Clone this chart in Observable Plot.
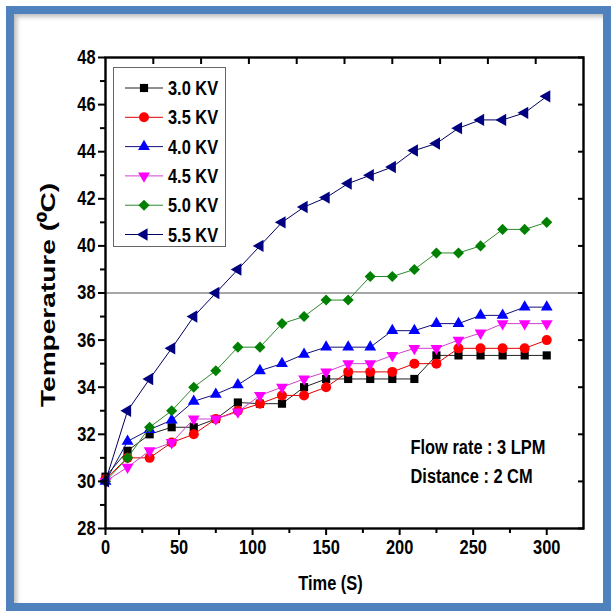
<!DOCTYPE html>
<html><head><meta charset="utf-8">
<script src="https://cdn.jsdelivr.net/npm/d3@7"></script>
<script src="https://cdn.jsdelivr.net/npm/@observablehq/plot@0.6"></script>
<style>
body{margin:0;background:#fff;}
#wrap{position:relative;width:615px;height:616px;overflow:hidden;background:#fff;}
#frame{position:absolute;left:6px;top:6px;width:605px;height:605px;box-sizing:border-box;border:8px solid #4f81bd;pointer-events:none;box-shadow:inset 3px 3px 4px rgba(0,0,0,0.25);}
#legend{position:absolute;left:0;top:0;pointer-events:none;}
</style></head><body><div id="wrap"></div>
<script>
// ---- data ----
const times = [0,15,30,45,60,75,90,105,120,135,150,165,180,195,210,225,240,255,270,285,300];
const kv30 = [30.2,31.3,32.0,32.3,32.3,32.65,33.35,33.3,33.3,34.0,34.35,34.35,34.35,34.35,34.35,35.35,35.35,35.35,35.35,35.35,35.35];
const kv35 = [30.1,31.0,31.0,31.65,32.0,32.65,33.0,33.3,33.65,33.65,34.0,34.65,34.65,34.65,35.0,35.0,35.65,35.65,35.65,35.65,36.0];
const kv40 = [30.0,31.7,32.2,32.6,33.4,33.7,34.1,34.7,35.0,35.4,35.7,35.7,35.7,36.4,36.4,36.7,36.7,37.05,37.05,37.4,37.4];
const kv45 = [30.0,30.6,31.3,31.65,32.65,32.65,32.95,33.65,34.0,34.35,34.65,35.0,35.0,35.35,35.65,35.65,36.0,36.3,36.7,36.7,36.7];
const kv50 = [30.0,31.0,32.3,33.0,34.0,34.7,35.7,35.7,36.7,37.0,37.7,37.7,38.7,38.7,39.0,39.7,39.7,40.0,40.7,40.7,41.0];
const kv55 = [30.0,33.0,34.35,35.65,37.0,38.0,39.0,40.0,41.0,41.65,42.05,42.65,43.0,43.35,44.05,44.35,45.0,45.35,45.35,45.65,46.35];
const seriesNames = ["3.0 KV","3.5 KV","4.0 KV","4.5 KV","5.0 KV","5.5 KV"];
const seriesValues = [kv30,kv35,kv40,kv45,kv50,kv55];
const xTicks = [0,50,100,150,200,250,300];
const xMinorTicks = [25,75,125,175,225,275];
const topTicks = [32.5,65,97.5,130,162.5,195,227.5,260,292.5];
const yTicks = [28,30,32,34,36,38,40,42,44,46,48];
const yMinorTicks = [29,31,33,35,37,39,41,43,45,47];
const refLine = [38];
const note1 = "Flow rate : 3 LPM";
const note2 = "Distance : 2 CM";
const xTitle = "Time (S)";
const yTitle = "Temperature (\u2070C)";

// ---- styles ----
const styles = [
  {fill:"#000000", line:"#222222", symbol:"square",   r:4.6, rotate:0},
  {fill:"#ff0000", line:"#e00000", symbol:"circle",   r:5.0, rotate:0},
  {fill:"#0000ff", line:"#10107a", symbol:"triangle", r:4.4, rotate:0},
  {fill:"#ff00ff", line:"#d040d0", symbol:"triangle", r:4.4, rotate:180},
  {fill:"#008000", line:"#2a8a2a", symbol:"diamond2", r:5.0, rotate:0},
  {fill:"#000080", line:"#000060", symbol:"triangle", r:4.6, rotate:-90}
];
const font = "'Liberation Sans', Arial, Helvetica, sans-serif";
const condense = 0.82;

const rows = seriesNames.map((name, si) => times.map((t, i) => ({t, v: seriesValues[si][i], s: name})));

const seriesMarks = rows.flatMap((data, si) => {
  const st = styles[si];
  return [
    Plot.line(data, {x:"t", y:"v", stroke: st.line, strokeWidth: 1}),
    Plot.dot(data, {x:"t", y:"v", symbol: st.symbol, r: st.r, fill: st.fill, stroke: "none", rotate: st.rotate})
  ];
});

const chart = Plot.plot({
  width: 615, height: 616,
  marginLeft: 105, marginRight: 32, marginTop: 57, marginBottom: 88,
  x: {domain: [0, 325], label: null},
  y: {domain: [28, 48], label: null},
  style: {fontFamily: font, fontWeight: "bold", fontSize: "20px", color: "#000", background: "transparent"},
  marks: [
    Plot.ruleY(refLine, {stroke: "#8a8a8a", strokeWidth: 1.3}),
    ...seriesMarks,
    Plot.frame({stroke: "#000", strokeWidth: 2.4}),
    Plot.axisX({ticks: xTicks, tickSize: 7, tickPadding: 4, strokeWidth: 2, fontSize: 20, fontWeight: "bold", label: null}),
    Plot.axisX({ticks: xMinorTicks, tickSize: 5, text: null, strokeWidth: 2, label: null}),
    Plot.axisX({anchor: "top", ticks: topTicks, tickSize: -6, text: null, strokeWidth: 2, label: null}),
    Plot.axisY({ticks: yTicks, tickSize: 7, tickPadding: 3, strokeWidth: 2, fontSize: 20, fontWeight: "bold", label: null}),
    Plot.axisY({ticks: yMinorTicks, tickSize: 5, text: null, strokeWidth: 2, label: null}),
    Plot.axisY({anchor: "right", ticks: yTicks, tickSize: -6, text: null, strokeWidth: 2, label: null}),
    Plot.text([xTitle], {text: d => d, frameAnchor: "bottom", dx: -14, dy: 55, fontSize: 20, fontWeight: "bold", lineAnchor: "middle", textAnchor: "middle"}),
    Plot.text([yTitle], {text: d => d, frameAnchor: "left", dx: -57, dy: 2, rotate: -90, fontSize: 21, fontWeight: "bold", lineAnchor: "middle", textAnchor: "middle"}),
    Plot.text([note1], {text: d => d, frameAnchor: "top-left", dx: 305, dy: 390, textAnchor: "start", fontSize: 20, fontWeight: "bold", lineAnchor: "middle"}),
    Plot.text([note2], {text: d => d, frameAnchor: "top-left", dx: 305, dy: 419, textAnchor: "start", fontSize: 20, fontWeight: "bold", lineAnchor: "middle"})
  ]
});
document.getElementById("wrap").appendChild(chart);

function condenseText(el, factor, fixed) {
  const w = el.getComputedTextLength();
  if (!w) return;
  el.setAttribute("textLength", (fixed || w * factor).toFixed(1));
  el.setAttribute("lengthAdjust", "spacingAndGlyphs");
}
d3.select(chart).selectAll("text").each(function(){
  if (this.textContent === yTitle) condenseText(this, 1, 224);
  else condenseText(this, condense);
});

// ---- legend ----
const leg = d3.select("#wrap").append("svg").attr("id","legend").attr("width",615).attr("height",616);
leg.append("rect").attr("x",113.5).attr("y",67.5).attr("width",112).attr("height",179)
   .attr("fill","#fff").attr("stroke","#666").attr("stroke-width",1);
const symMap = {square: d3.symbolSquare, circle: d3.symbolCircle, triangle: d3.symbolTriangle, diamond2: d3.symbolDiamond2};
seriesNames.forEach((name, i) => {
  const st = styles[i];
  const cy = 88 + i * 29.3;
  const g = leg.append("g").attr("transform", `translate(0,${cy})`);
  g.append("line").attr("x1",125).attr("x2",163).attr("y1",0).attr("y2",0).attr("stroke",st.line).attr("stroke-width",1);
  g.append("path").attr("d", d3.symbol(symMap[st.symbol], st.r*st.r*Math.PI)())
    .attr("transform", `translate(144,0) rotate(${st.rotate})`).attr("fill", st.fill);
  const t = g.append("text").attr("x",168).attr("y",0).attr("dy","0.35em").text(name)
    .attr("font-family", font).attr("font-weight","bold").attr("font-size",20).attr("fill","#000");
  condenseText(t.node(), condense);
});

d3.select("#wrap").append("div").attr("id","frame");
</script>
</body></html>
